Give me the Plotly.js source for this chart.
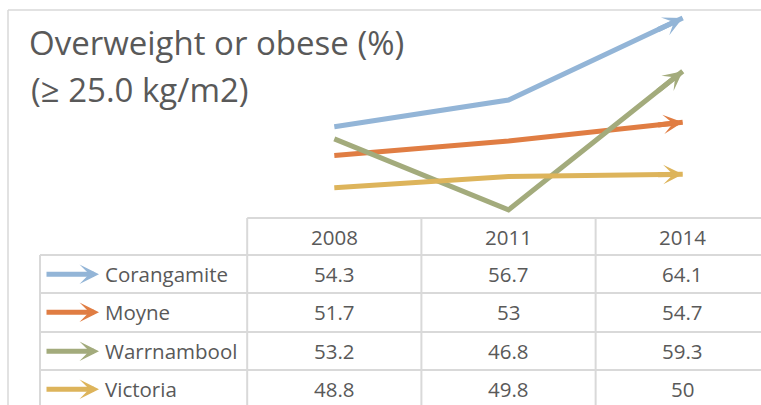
<!DOCTYPE html>
<html><head><meta charset="utf-8">
<script src="https://cdn.plot.ly/plotly-3.0.1.min.js"></script>
<style>html,body{margin:0;padding:0;background:#fff}</style>
</head><body><div id="chart" style="width:761px;height:405px"></div>
<script>
const years = [2008, 2011, 2014];
const yearLabels = ['2008', '2011', '2014'];
const seriesNames = ['Corangamite', 'Moyne', 'Warrnambool', 'Victoria'];
const corangamite = [54.3, 56.7, 64.1];
const moyne = [51.7, 53, 54.7];
const warrnambool = [53.2, 46.8, 59.3];
const victoria = [48.8, 49.8, 50];
const titleLine1 = 'Overweight or obese (%)';
const titleLine2 = '(≥ 25.0 kg/m2)';

const seriesValues = [corangamite, moyne, warrnambool, victoria];
const colors = ['#93b5d7', '#e07d43', '#a3ab7c', '#ddb45b'];
const W = 761, H = 405;
const FONT = '"Open Sans", Lato, sans-serif';
const TXT = '#595959';
const GRID = '#d9d9d9';
const px = v => v / W;
const py = v => 1 - v / H;

const traces = seriesValues.map((vals, i) => ({
  type: 'scatter', mode: 'lines', x: years, y: vals, name: seriesNames[i],
  line: {color: colors[i], width: 5}, hoverinfo: 'skip', showlegend: false
}));

const annotations = [];
// arrowheads at series ends
seriesValues.forEach((vals, i) => {
  const n = vals.length;
  annotations.push({
    x: years[n - 1], y: vals[n - 1], xref: 'x', yref: 'y',
    ax: years[n - 2] + (years[n - 1] - years[n - 2]) * 0.85,
    ay: vals[n - 2] + (vals[n - 1] - vals[n - 2]) * 0.85,
    axref: 'x', ayref: 'y', text: '', showarrow: true,
    arrowhead: 3, arrowsize: 0.65, arrowwidth: 5, arrowcolor: colors[i], standoff: 0
  });
});
// title second line
annotations.push({
  text: titleLine2, xref: 'paper', yref: 'paper', x: px(29), y: py(89),
  xanchor: 'left', yanchor: 'middle', showarrow: false,
  font: {family: FONT, size: 33, color: TXT}
});
// table header
const headerY = 236.5;
const rowTops = [255, 293, 332, 370];
const rowH = 38.3;
yearLabels.forEach((lab, j) => {
  annotations.push({
    text: lab, xref: 'x', yref: 'paper', x: years[j], y: py(headerY),
    xanchor: 'center', yanchor: 'middle', showarrow: false,
    font: {family: FONT, size: 20.5, color: TXT}
  });
});
seriesNames.forEach((name, r) => {
  const cy = rowTops[r] + rowH / 2;
  annotations.push({
    text: name, xref: 'paper', yref: 'paper', x: px(103), y: py(cy),
    xanchor: 'left', yanchor: 'middle', showarrow: false,
    font: {family: FONT, size: 20.5, color: TXT}
  });
  annotations.push({
    text: '', xref: 'paper', yref: 'paper', x: px(99), y: py(cy),
    ax: -54, ay: 0, showarrow: true, arrowhead: 3, arrowsize: 0.65,
    arrowwidth: 5, arrowcolor: colors[r], standoff: 0
  });
  seriesValues[r].forEach((v, j) => {
    annotations.push({
      text: String(v), xref: 'x', yref: 'paper', x: years[j], y: py(cy),
      xanchor: 'center', yanchor: 'middle', showarrow: false,
      font: {family: FONT, size: 20.5, color: TXT}
    });
  });
});

const shapes = [];
const ln = (x0, y0, x1, y1, xref, w) => shapes.push({
  type: 'line', xref: xref || 'paper', yref: 'paper', x0, y0, x1, y1,
  line: {color: GRID, width: w || 2}
});
// outer chart border
ln(px(8), py(10), 1, py(10), 'paper', 1.5);
ln(px(8), py(10), px(8), 0, 'paper', 1.5);
// table grid
const step = years[1] - years[0];
const bounds = years.map(y => y - step / 2).concat([years[years.length - 1] + step / 2]);
shapes.push({type: 'line', xref: 'x', yref: 'paper', x0: bounds[0], x1: bounds[bounds.length - 1],
  y0: py(218), y1: py(218), line: {color: GRID, width: 2}});
rowTops.forEach(t => ln(px(40), py(t), 1, py(t)));
ln(px(40), py(rowTops[0]), px(40), 0);
bounds.forEach(b => shapes.push({type: 'line', xref: 'x', yref: 'paper', x0: b, x1: b,
  y0: py(218), y1: 0, line: {color: GRID, width: 2}}));

const layout = {
  width: W, height: H, autosize: false,
  margin: {l: 0, r: 0, t: 0, b: 0, pad: 0},
  paper_bgcolor: '#fff', plot_bgcolor: '#fff',
  title: {text: titleLine1, x: px(29), xref: 'paper', xanchor: 'left',
    y: py(43), yref: 'container', yanchor: 'middle',
    font: {family: FONT, size: 33, color: TXT}},
  xaxis: {range: [2002.243, 2015.348], visible: false, fixedrange: true},
  yaxis: {range: [29.2, 65.725], visible: false, fixedrange: true},
  showlegend: false, annotations, shapes
};
Plotly.newPlot('chart', traces, layout, {displayModeBar: false, staticPlot: true});
</script></body></html>
